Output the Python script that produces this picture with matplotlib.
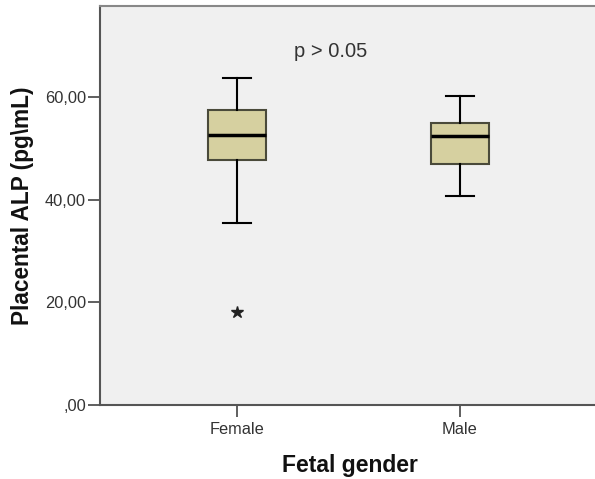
import matplotlib
matplotlib.use("Agg")
import matplotlib.pyplot as plt

categories = ["Female", "Male"]
whisker_low = [35.4, 40.7]
q1 = [47.8, 47.0]
medians = [52.7, 52.4]
q3 = [57.6, 55.0]
whisker_high = [63.8, 60.2]
outliers = [[18.1], []]
yticks = [0, 20, 40, 60]
ytick_labels = [",00", "20,00", "40,00", "60,00"]

plt.rcParams['font.family'] = ['Liberation Sans', 'DejaVu Sans']

fig = plt.figure(figsize=(5.95, 4.79), dpi=100)
W, H = 595, 479
ax = fig.add_axes([100 / W, (H - 405) / H, 500 / W, (405 - 6) / H])
ax.set_facecolor("#F0F0F0")

stats = []
for i, c in enumerate(categories):
    stats.append(dict(label=c, med=medians[i], q1=q1[i], q3=q3[i],
                      whislo=whisker_low[i], whishi=whisker_high[i],
                      fliers=outliers[i]))

pos = list(range(len(categories)))
ax.bxp(stats, positions=pos, widths=0.26, patch_artist=True,
       boxprops=dict(facecolor="#D6D0A0", edgecolor="#4a4a3a", linewidth=1.5),
       medianprops=dict(color="black", linewidth=2.5),
       whiskerprops=dict(color="black", linewidth=1.5),
       capprops=dict(color="black", linewidth=1.5),
       capwidths=0.125,
       flierprops=dict(marker="*", markersize=9, markerfacecolor="#222222",
                       markeredgecolor="#222222", linestyle="none"))

ax.set_xlim(-0.614, 1.63)
ax.set_ylim(0, 77.8)
ax.set_yticks(yticks)
ax.set_yticklabels(ytick_labels)
ax.set_xticks(pos)
ax.set_xticklabels(categories)

for s in ["left", "bottom", "top"]:
    ax.spines[s].set_color("#555555")
    ax.spines[s].set_linewidth(1.5)
ax.spines["right"].set_visible(False)
ax.spines["top"].set_color("#888888")

ax.tick_params(axis="both", colors="#444444", labelcolor="#333333",
               labelsize=11.8, length=8.5, width=1.2)
ax.tick_params(axis="y", pad=1.5)
ax.tick_params(axis="x", pad=4)

ax.set_ylabel("Placental ALP (pg\\mL)", fontsize=16.3, fontweight="bold",
              color="#111111", labelpad=8)
ax.set_xlabel("Fetal gender", fontsize=16.5, fontweight="bold",
              color="#111111", labelpad=12)

ax.text(0.42, 69.0, "p > 0.05", fontsize=14.5, color="#333333",
        ha="center", va="center")

fig.savefig("out.png", dpi=100)
